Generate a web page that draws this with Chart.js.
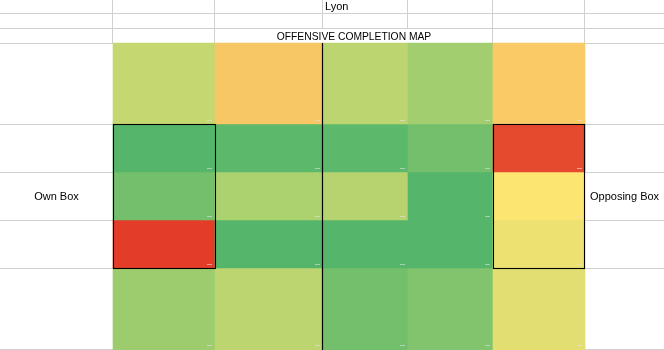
<!DOCTYPE html>
<html lang="en">
<head>
  <meta charset="UTF-8">
  <title>Lyon - Offensive Completion Map</title>
  <script src="https://cdn.jsdelivr.net/npm/chart.js"></script>
  <style>
    body {
      margin: 0;
      background: #fff;
    }
    .sheet {
      position: relative;
      width: 664px;
      height: 350px;
    }
  </style>
</head>
<body>
  <div class="sheet"><canvas id="completionMap"></canvas></div>

  <script>
    // pitch zones from our own box (left) to the opposing box (right)
    const zones = ['Zone 1', 'Zone 2', 'Zone 3', 'Zone 4', 'Zone 5'];
    // channels from top touchline to bottom touchline
    const channels = ['Left wing', 'Left half-space', 'Centre', 'Right half-space', 'Right wing'];

    // completion index per channel (rows) and zone (columns)
    const leftWing   = [67, 41, 69, 77, 42];
    const leftHalf   = [100, 98, 98, 91, 4];
    const centre     = [91, 74, 71, 100, 50];
    const rightHalf  = [0, 100, 100, 100, 55];
    const rightWing  = [79, 69, 91, 87, 58];
    const completion = [leftWing, leftHalf, centre, rightHalf, rightWing];

    // spreadsheet layout (sheet units = px): column and row edges of the map
    const SHEET_W = 664, SHEET_H = 350;
    const colEdges = [113, 215, 323, 408, 493, 585];
    const rowEdges = [43, 124, 172, 220, 268, 350];

    // red - yellow - green colour scale
    const colorStops = [
      [0,   [227, 60, 40]],
      [50,  [253, 229, 114]],
      [75,  [169, 208, 111]],
      [100, [85, 182, 107]]
    ];

    function heatColor(v) {
      for (let i = 1; i < colorStops.length; i++) {
        const [v0, c0] = colorStops[i - 1];
        const [v1, c1] = colorStops[i];
        if (v <= v1 || i === colorStops.length - 1) {
          const t = Math.max(0, Math.min(1, (v - v0) / (v1 - v0)));
          const c = c0.map((ch, k) => Math.round(ch + (c1[k] - ch) * t));
          return `rgb(${c[0]}, ${c[1]}, ${c[2]})`;
        }
      }
    }

    const FONT = '"Liberation Sans", Arial, sans-serif';

    // light spreadsheet gridlines, drawn under the cells
    const sheetGrid = {
      id: 'sheetGrid',
      beforeDatasetsDraw(chart) {
        const { ctx, scales: { x, y } } = chart;
        ctx.save();
        ctx.strokeStyle = '#d0d0d0';
        ctx.lineWidth = 1;
        const hLines = [13, 28, 43, 124, 172, 220, 268, 349];
        hLines.forEach(v => {
          const py = Math.round(y.getPixelForValue(v)) + 0.5;
          ctx.beginPath();
          ctx.moveTo(x.getPixelForValue(0), py);
          ctx.lineTo(x.getPixelForValue(SHEET_W), py);
          ctx.stroke();
        });
        // header rows: the title row is merged between the 2nd and 5th column
        const vLines = [
          [113, 0, 43], [215, 0, 43], [323, 0, 28], [408, 0, 28], [493, 0, 43], [585, 0, 43]
        ];
        vLines.forEach(([vx, y0, y1]) => {
          const px = Math.round(x.getPixelForValue(vx)) - 0.5;
          ctx.beginPath();
          ctx.moveTo(px, y.getPixelForValue(y0));
          ctx.lineTo(px, y.getPixelForValue(y1));
          ctx.stroke();
        });
        ctx.restore();
      }
    };

    // black borders: halfway line and the two boxes, plus the header texts
    const sheetOverlay = {
      id: 'sheetOverlay',
      afterDatasetsDraw(chart) {
        const { ctx, scales: { x, y } } = chart;
        ctx.save();

        // tiny cell markers in the bottom right corner of every cell
        ctx.strokeStyle = 'rgba(225, 225, 225, 0.6)';
        ctx.lineWidth = 1;
        completion.forEach((row, r) => {
          row.forEach((v, c) => {
            const px = x.getPixelForValue(colEdges[c + 1]);
            const py = Math.round(y.getPixelForValue(Math.min(rowEdges[r + 1], 349))) - 3.5;
            ctx.beginPath();
            ctx.moveTo(px - 8, py);
            ctx.lineTo(px - 3, py);
            ctx.stroke();
          });
        });

        ctx.strokeStyle = '#000';
        ctx.lineWidth = 1.2;
        const mid = x.getPixelForValue(colEdges[2]) - 0.5;
        ctx.beginPath();
        ctx.moveTo(mid, y.getPixelForValue(rowEdges[0]));
        ctx.lineTo(mid, y.getPixelForValue(SHEET_H));
        ctx.stroke();

        ctx.lineWidth = 1.1;
        const boxes = [[colEdges[0], colEdges[1]], [colEdges[4], colEdges[5] - 1]];
        boxes.forEach(([x0, x1]) => {
          const l = Math.round(x.getPixelForValue(x0)) + 0.5;
          const r = Math.round(x.getPixelForValue(x1)) + 0.5;
          const t = Math.round(y.getPixelForValue(rowEdges[1])) + 0.5;
          const b = Math.round(y.getPixelForValue(rowEdges[4])) + 0.5;
          ctx.strokeRect(l, t, r - l, b - t);
        });

        ctx.fillStyle = '#000';
        ctx.textBaseline = 'alphabetic';
        ctx.font = `11px ${FONT}`;
        ctx.textAlign = 'left';
        ctx.fillText('Lyon', x.getPixelForValue(325), y.getPixelForValue(10));
        ctx.fillText('Opposing Box', x.getPixelForValue(590), y.getPixelForValue(200));
        ctx.textAlign = 'center';
        ctx.fillText('Own Box', x.getPixelForValue(56.5), y.getPixelForValue(200));
        ctx.font = `10.3px ${FONT}`;
        ctx.fillText('OFFENSIVE COMPLETION MAP',
          x.getPixelForValue((colEdges[1] + colEdges[4]) / 2), y.getPixelForValue(40));
        ctx.restore();
      }
    };

    const datasets = channels.map((channel, r) => ({
      label: channel,
      data: zones.map((zone, c) => ({
        x: [colEdges[c], colEdges[c + 1]],
        y: (rowEdges[r] + rowEdges[r + 1]) / 2
      })),
      backgroundColor: completion[r].map(heatColor),
      barThickness: rowEdges[r + 1] - rowEdges[r],
      borderWidth: 0,
      borderSkipped: false,
      grouped: false
    }));

    new Chart(document.getElementById('completionMap'), {
      type: 'bar',
      data: { datasets },
      options: {
        indexAxis: 'y',
        responsive: true,
        maintainAspectRatio: false,
        animation: false,
        layout: { padding: 0 },
        scales: {
          x: { type: 'linear', min: 0, max: SHEET_W, offset: false, display: false },
          y: { type: 'linear', min: 0, max: SHEET_H, reverse: true, offset: false, display: false }
        },
        plugins: {
          legend: { display: false },
          tooltip: { enabled: false }
        }
      },
      plugins: [sheetGrid, sheetOverlay]
    });
  </script>
</body>
</html>
